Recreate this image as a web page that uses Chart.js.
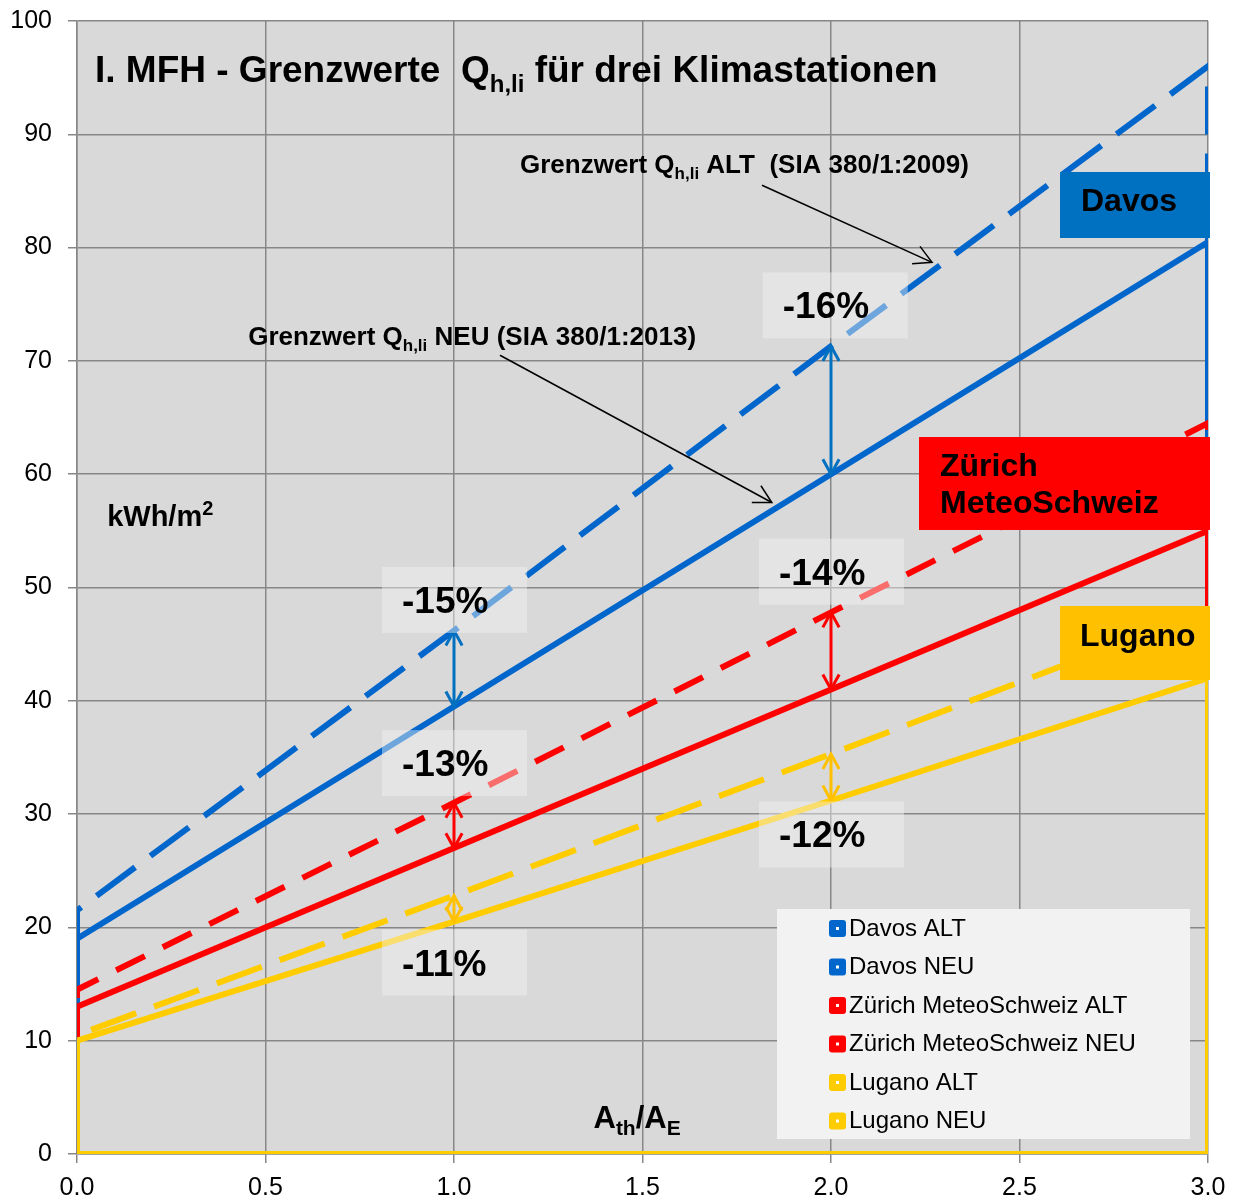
<!DOCTYPE html>
<html>
<head>
<meta charset="utf-8">
<script src="https://cdn.jsdelivr.net/npm/chart.js@4"></script>
<style>
  body { margin: 0; background: #fff; }
</style>
</head>
<body>
<canvas id="chart" width="1236" height="1201"></canvas>
<script>
// x = A_th/A_E, each series closes down to 0 at both ends
const ratio = [0, 0, 1, 2, 3, 3, 0];
const davosAlt  = [0, 21.5, 46.2, 71.3, 96.0, 0, 0];
const davosNeu  = [0, 19.0, 39.5, 60.0, 80.5, 0, 0];
const zurichAlt = [0, 14.5, 31.0, 47.8, 64.5, 0, 0];
const zurichNeu = [0, 13.0, 27.0, 41.0, 55.0, 0, 0];
const luganoAlt = [0, 10.5, 22.8, 35.3, 48.0, 0, 0];
const luganoNeu = [0, 10.0, 20.5, 31.2, 42.0, 0, 0];

const seriesNames = ["Davos ALT", "Davos NEU", "Zürich MeteoSchweiz ALT", "Zürich MeteoSchweiz NEU", "Lugano ALT", "Lugano NEU"];
const pctLabels = ["-15%", "-13%", "-11%", "-16%", "-14%", "-12%"];

const FONT = "'Liberation Sans', Arial, sans-serif";
const BLUE = "#0066cc", RED = "#ff0000", YELLOW = "#ffcc00";

function pts(ys) {
    return ys.map((y, i) => ({ x: ratio[i], y: y }));
}

// reduction arrows between ALT and NEU at x=1 and x=2
const arrows = [
    { alt: davosAlt, neu: davosNeu, idx: 2, color: "#0070c0" },
    { alt: davosAlt, neu: davosNeu, idx: 3, color: "#0070c0" },
    { alt: zurichAlt, neu: zurichNeu, idx: 2, color: "#ff0000" },
    { alt: zurichAlt, neu: zurichNeu, idx: 3, color: "#ff0000" },
    { alt: luganoAlt, neu: luganoNeu, idx: 2, color: "#ffc000" },
    { alt: luganoAlt, neu: luganoNeu, idx: 3, color: "#ffc000" }
];
// label boxes, centre in data units
const pctPos = [[1.0, 48.9], [1.0, 34.5], [1.0, 16.9], [2.01, 74.9], [2.0, 51.4], [2.0, 28.2]];

function arrowHead(ctx, x1, y1, x2, y2, len) {
    const a = Math.atan2(y2 - y1, x2 - x1);
    ctx.beginPath();
    ctx.moveTo(x2 - len * Math.cos(a - 0.5), y2 - len * Math.sin(a - 0.5));
    ctx.lineTo(x2, y2);
    ctx.lineTo(x2 - len * Math.cos(a + 0.5), y2 - len * Math.sin(a + 0.5));
    ctx.stroke();
}

function richText(ctx, parts, x, y) {
    let cx = x;
    parts.forEach(p => {
        ctx.font = "bold " + p.size + "px " + FONT;
        ctx.fillText(p.t, cx, y + (p.dy || 0));
        cx += ctx.measureText(p.t).width;
    });
}

const decorPlugin = {
    id: "decor",
    beforeDraw(chart) {
        const { ctx, chartArea: a } = chart;
        ctx.save();
        ctx.fillStyle = "#d9d9d9";
        ctx.fillRect(a.left, a.top, a.right - a.left, a.bottom - a.top);
        ctx.restore();
    },
    afterDatasetsDraw(chart) {
        const { ctx } = chart;
        const xs = chart.scales.x, ys = chart.scales.y;
        const px = v => xs.getPixelForValue(v);
        const py = v => ys.getPixelForValue(v);
        ctx.save();
        ctx.textBaseline = "alphabetic";
        ctx.textAlign = "left";

        // double arrows
        arrows.forEach(ar => {
            const x = px(ratio[ar.idx]);
            const y1 = py(ar.alt[ar.idx]), y2 = py(ar.neu[ar.idx]);
            ctx.strokeStyle = ar.color;
            ctx.lineWidth = 3;
            ctx.beginPath();
            ctx.moveTo(x, y1);
            ctx.lineTo(x, y2);
            ctx.stroke();
            arrowHead(ctx, x, y2, x, y1, 17);
            arrowHead(ctx, x, y1, x, y2, 17);
        });

        // percentage boxes
        pctLabels.forEach((t, i) => {
            const cx = px(pctPos[i][0]), cy = py(pctPos[i][1]);
            ctx.fillStyle = "rgba(242,242,242,0.45)";
            ctx.fillRect(cx - 72, cy - 33, 145, 66);
            ctx.fillStyle = "#000";
            ctx.font = "bold 37px " + FONT;
            ctx.fillText(t, cx - 52, cy + 13);
        });

        // station boxes
        ctx.fillStyle = "#0070c0";
        ctx.fillRect(1060, 172, 150, 66);
        ctx.fillStyle = "#ff0000";
        ctx.fillRect(919, 437, 291, 93);
        ctx.fillStyle = "#ffc000";
        ctx.fillRect(1060, 606, 150, 74);
        ctx.fillStyle = "#000";
        ctx.font = "bold 32px " + FONT;
        ctx.fillText("Davos", 1081, 211);
        ctx.fillText("Zürich", 940, 476);
        ctx.fillText("MeteoSchweiz", 940, 513);
        ctx.fillText("Lugano", 1080, 646);

        // title and axis texts
        richText(ctx, [{ t: "I. MFH - Grenzwerte  Q", size: 37 }, { t: "h,li", size: 24, dy: 10 }, { t: " für drei Klimastationen", size: 37 }], 95, 82);
        richText(ctx, [{ t: "Grenzwert Q", size: 26 }, { t: "h,li", size: 17, dy: 6 }, { t: " ALT  (SIA 380/1:2009)", size: 26 }], px(1.175), py(86.6));
        richText(ctx, [{ t: "Grenzwert Q", size: 26 }, { t: "h,li", size: 17, dy: 6 }, { t: " NEU (SIA 380/1:2013)", size: 26 }], px(0.454), py(71.4));
        richText(ctx, [{ t: "kWh/m", size: 29 }, { t: "2", size: 20, dy: -11 }], px(0.08), py(55.4));
        richText(ctx, [{ t: "A", size: 31 }, { t: "th", size: 21, dy: 7 }, { t: "/A", size: 31 }, { t: "E", size: 21, dy: 7 }], px(1.37), py(2.3));

        // pointer arrows
        ctx.strokeStyle = "#000";
        ctx.lineWidth = 1.5;
        [[1.817, 85.5, 2.268, 78.7], [1.122, 70.5, 1.843, 57.5]].forEach(p => {
            const x1 = px(p[0]), y1 = py(p[1]), x2 = px(p[2]), y2 = py(p[3]);
            ctx.beginPath();
            ctx.moveTo(x1, y1);
            ctx.lineTo(x2, y2);
            ctx.stroke();
            arrowHead(ctx, x1, y1, x2, y2, 20);
        });

        // legend
        ctx.fillStyle = "#f2f2f2";
        ctx.fillRect(777, 909, 413, 230);
        ctx.font = "24px " + FONT;
        ctx.textBaseline = "middle";
        chart.data.datasets.forEach((ds, i) => {
            const y = 928 + i * 38.5;
            ctx.fillStyle = ds.borderColor;
            ctx.beginPath();
            ctx.roundRect(829, y - 8, 17, 17, 3);
            ctx.fill();
            ctx.fillStyle = "#fff";
            ctx.fillRect(836, y - 1, 3, 3);
            ctx.fillStyle = "#000";
            ctx.fillText(ds.label, 849, y + 1);
        });
        ctx.restore();
    }
};

function line(label, ys, color, dash, order) {
    return {
        label: label,
        data: pts(ys),
        borderColor: color,
        backgroundColor: color,
        borderWidth: 6,
        borderDash: dash,
        borderCapStyle: "butt",
        pointRadius: 0,
        tension: 0,
        fill: false,
        showLine: true,
        order: order
    };
}

new Chart(document.getElementById("chart"), {
    type: "scatter",
    data: {
        datasets: [
            line(seriesNames[0], davosAlt, BLUE, [48, 19], 6),
            line(seriesNames[1], davosNeu, BLUE, [], 5),
            line(seriesNames[2], zurichAlt, RED, [32, 20], 4),
            line(seriesNames[3], zurichNeu, RED, [], 3),
            line(seriesNames[4], luganoAlt, YELLOW, [48, 19], 2),
            line(seriesNames[5], luganoNeu, YELLOW, [], 1)
        ]
    },
    options: {
        responsive: false,
        animation: false,
        layout: { padding: { top: 21, right: 28, left: 0, bottom: 0 } },
        plugins: {
            legend: { display: false },
            tooltip: { enabled: false }
        },
        scales: {
            x: {
                type: "linear",
                min: 0,
                max: 3,
                ticks: {
                    stepSize: 0.5,
                    color: "#000",
                    font: { size: 25, family: FONT },
                    padding: 10,
                    callback: v => v.toFixed(1)
                },
                grid: { color: "#878787", lineWidth: 1.5, tickLength: 9 },
                border: { color: "#878787", width: 1.5 },
                afterFit: s => {
                    s.height = 47;
                    s.paddingLeft = 0;
                    s.paddingRight = 0;
                }
            },
            y: {
                min: 0,
                max: 100,
                ticks: {
                    stepSize: 10,
                    color: "#000",
                    font: { size: 25, family: FONT },
                    padding: 16
                },
                grid: { color: "#878787", lineWidth: 1.5, tickLength: 9 },
                border: { color: "#878787", width: 1.5 },
                afterFit: s => {
                    s.width = 77;
                    s.paddingTop = 0;
                    s.paddingBottom = 0;
                }
            }
        }
    },
    plugins: [decorPlugin]
});
</script>
</body>
</html>
